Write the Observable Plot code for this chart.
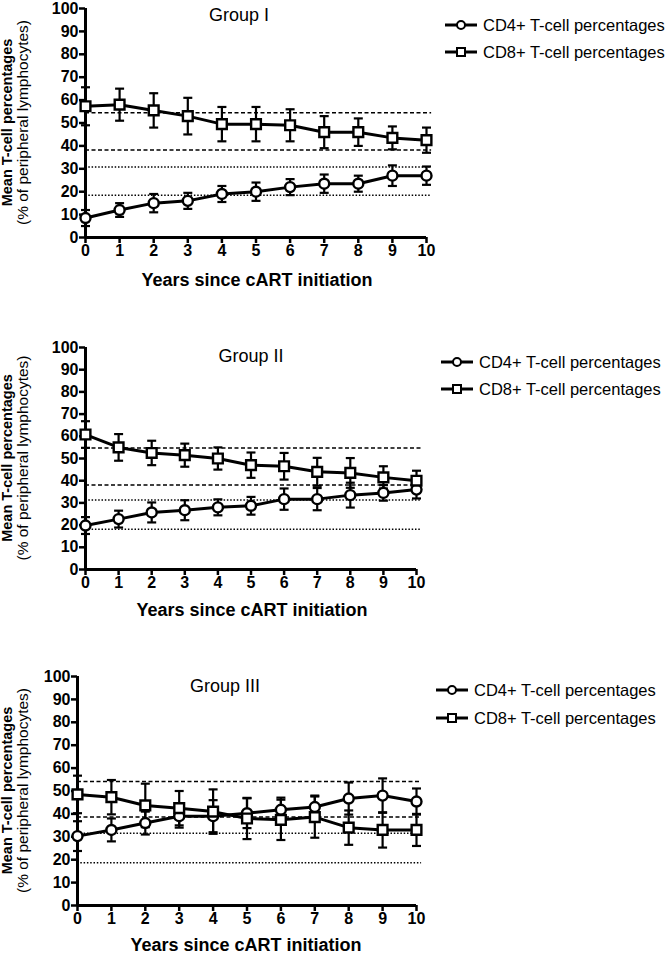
<!DOCTYPE html>
<html><head><meta charset="utf-8">
<script src="https://cdn.jsdelivr.net/npm/d3@7"></script>
<script src="https://cdn.jsdelivr.net/npm/@observablehq/plot@0.6"></script>
<style>
body{margin:0;background:#fff;}
#root{position:relative;width:671px;height:957px;font-family:"Liberation Sans",Arial,sans-serif;overflow:hidden;}
.panel{position:absolute;left:0;}
#overlay{position:absolute;left:0;top:0;pointer-events:none;}
</style></head><body><div id="root"></div>
<script>
// ---- data ----
const years = [0, 1, 2, 3, 4, 5, 6, 7, 8, 9, 10];
const yTicks = [0, 10, 20, 30, 40, 50, 60, 70, 80, 90, 100];
const seriesNames = ["CD4+ T-cell percentages", "CD8+ T-cell percentages"];
const groupNames = ["Group I", "Group II", "Group III"];
const xTitle = "Years since cART initiation";
const yTitle1 = "Mean T-cell percentages";
const yTitle2 = "(% of peripheral lymphocytes)";

const g1Cd4 = [8.5, 12, 15, 16, 19, 20, 22, 23.5, 23.5, 27, 27];
const g1Cd4Err = [3.5, 3, 4, 3.5, 3.5, 4, 3.5, 4, 3.5, 4.5, 4];
const g1Cd8 = [57.3, 58, 55.5, 53, 49.5, 49.5, 49, 46, 46, 43.5, 42.5];
const g1Cd8Err = [8.3, 7, 7.5, 8, 7.5, 7.5, 7, 7, 6, 5, 5.5];

const g2Cd4 = [19.8, 22.7, 25.7, 26.7, 28, 28.7, 31.7, 31.7, 33.5, 34.5, 36];
const g2Cd4Err = [3.8, 3.8, 4.5, 4.5, 3.6, 4, 4.8, 5, 5.6, 3.5, 4];
const g2Cd8 = [60.8, 55, 52.5, 51.5, 50, 47, 46.5, 44, 43.5, 41.5, 40];
const g2Cd8Err = [6, 6, 5.5, 5.2, 5, 5.7, 6, 6.3, 6.7, 5, 4.5];

const g3Cd4 = [30.3, 33, 36, 39, 39, 40.3, 41.8, 43, 46.7, 48, 45.4];
const g3Cd4Err = [6.5, 5, 5, 5, 7, 6.5, 5.3, 5, 7, 7.5, 5.7];
const g3Cd8 = [48.5, 47.3, 43.7, 42.5, 41, 38, 37.4, 38.6, 34, 33, 33];
const g3Cd8Err = [8.2, 7.5, 9.5, 7.5, 9.7, 9, 8.8, 9, 7.5, 7.7, 7];

// reference ranges: CD8 (dashed) and CD4 (dotted)
const g1Cd8Ref = [54.5, 38.2];
const g1Cd4Ref = [30.8, 18.5];
const g2Cd8Ref = [54.7, 38.1];
const g2Cd4Ref = [31.3, 18.1];
const g3Cd8Ref = [54.2, 38.6];
const g3Cd4Ref = [31.6, 18.7];

// ---- layout ----
const panels = [
  {name: groupNames[0], cd4: g1Cd4, cd4Err: g1Cd4Err, cd8: g1Cd8, cd8Err: g1Cd8Err, cd8Ref: g1Cd8Ref, cd4Ref: g1Cd4Ref,
   top: 0, height: 300, mt: 8, mb: 63, ml: 85, mr: 14,
   titleX: 239, titleY: 21, xlabX: 257, xlabY: 286, ylab1X: 12, ylab2X: 28, legX: 445, legY: [25, 52]},
  {name: groupNames[1], cd4: g2Cd4, cd4Err: g2Cd4Err, cd8: g2Cd8, cd8Err: g2Cd8Err, cd8Ref: g2Cd8Ref, cd4Ref: g2Cd4Ref,
   top: 320, height: 300, mt: 27, mb: 51, ml: 85, mr: 24,
   titleX: 251, titleY: 362, xlabX: 252, xlabY: 616, ylab1X: 12, ylab2X: 28, legX: 441, legY: [362, 389]},
  {name: groupNames[2], cd4: g3Cd4, cd4Err: g3Cd4Err, cd8: g3Cd8, cd8Err: g3Cd8Err, cd8Ref: g3Cd8Ref, cd4Ref: g3Cd4Ref,
   top: 640, height: 317, mt: 36, mb: 52, ml: 77, mr: 24,
   titleX: 225, titleY: 692, xlabX: 246, xlabY: 951, ylab1X: 12, ylab2X: 28, legX: 436, legY: [690, 718]}
];

const root = document.getElementById("root");
const capSymbol = {
  draw(context, size) {
    const w = Math.sqrt(size / Math.PI);
    context.moveTo(-w, 0);
    context.lineTo(w, 0);
  }
};

for (const p of panels) {
  const rows = [];
  years.forEach((yr, i) => {
    rows.push({year: yr, series: "CD4", v: p.cd4[i], lo: p.cd4[i] - p.cd4Err[i], hi: p.cd4[i] + p.cd4Err[i]});
  });
  years.forEach((yr, i) => {
    rows.push({year: yr, series: "CD8", v: p.cd8[i], lo: p.cd8[i] - p.cd8Err[i], hi: p.cd8[i] + p.cd8Err[i]});
  });
  const x0 = d3.min(years), x1 = d3.max(years);
  const chart = Plot.plot({
    width: 440,
    height: p.height,
    marginTop: p.mt,
    marginBottom: p.mb,
    marginLeft: p.ml,
    marginRight: p.mr,
    style: {fontFamily: "'Liberation Sans', Arial, sans-serif", fontSize: "16px", fontWeight: "bold", color: "black", background: "transparent", overflow: "visible"},
    x: {domain: [x0, x1], ticks: years, label: null},
    y: {domain: [0, 100], ticks: yTicks, label: null},
    marks: [
      Plot.ruleY(p.cd8Ref, {y: d => d, x1: () => x0, x2: () => x1 + 0.15, stroke: "black", strokeWidth: 1.5, strokeDasharray: "4,2.5"}),
      Plot.ruleY(p.cd4Ref, {y: d => d, x1: () => x0, x2: () => x1 + 0.15, stroke: "black", strokeWidth: 1.5, strokeDasharray: "1.5,1.8"}),
      Plot.axisX({ticks: years, tickSize: 6, tickPadding: 1, strokeWidth: 2.5, label: null, tickFormat: d => d}),
      Plot.axisY({ticks: yTicks, tickSize: 6, tickPadding: 1, strokeWidth: 2.5, label: null}),
      Plot.ruleX([x0], {y1: () => 0, y2: () => 100, stroke: "black", strokeWidth: 3}),
      Plot.ruleY([0], {x1: () => x0, x2: () => x1, stroke: "black", strokeWidth: 3}),
      Plot.line(rows, {x: "year", y: "v", z: "series", stroke: "black", strokeWidth: 3}),
      Plot.ruleX(rows, {x: "year", y1: "lo", y2: "hi", stroke: "black", strokeWidth: 2.2}),
      Plot.dot(rows, {x: "year", y: "hi", symbol: capSymbol, r: 4.5, stroke: "black", strokeWidth: 2.2, fill: "none"}),
      Plot.dot(rows, {x: "year", y: "lo", symbol: capSymbol, r: 4.5, stroke: "black", strokeWidth: 2.2, fill: "none"}),
      Plot.dot(rows.filter(d => d.series === "CD4"), {x: "year", y: "v", symbol: "circle", r: 5, fill: "white", stroke: "black", strokeWidth: 2.4}),
      Plot.dot(rows.filter(d => d.series === "CD8"), {x: "year", y: "v", symbol: "square", r: 5.5, fill: "white", stroke: "black", strokeWidth: 2.4})
    ]
  });
  chart.classList.add("panel");
  chart.style.top = p.top + "px";
  root.appendChild(chart);
}

// ---- overlay texts and legends ----
const svg = d3.select(root).append("svg").attr("id", "overlay").attr("width", 671).attr("height", 957)
  .style("font-family", "'Liberation Sans', Arial, sans-serif");

for (const p of panels) {
  const plotCenterY = p.top + p.mt + (p.height - p.mt - p.mb) / 2;
  svg.append("text").attr("x", p.titleX).attr("y", p.titleY).attr("text-anchor", "middle")
    .style("font-size", "18px").text(p.name);
  svg.append("text").attr("x", p.xlabX).attr("y", p.xlabY).attr("text-anchor", "middle")
    .style("font-size", "18px").style("font-weight", "bold").text(xTitle);
  svg.append("text").attr("transform", `translate(${p.ylab1X},${plotCenterY}) rotate(-90)`).attr("text-anchor", "middle")
    .style("font-size", "14.5px").style("font-weight", "bold").text(yTitle1);
  svg.append("text").attr("transform", `translate(${p.ylab2X},${plotCenterY}) rotate(-90)`).attr("text-anchor", "middle")
    .style("font-size", "15.5px").text(yTitle2);

  seriesNames.forEach((s, i) => {
    const y = p.legY[i];
    const g = svg.append("g");
    g.append("line").attr("x1", p.legX).attr("x2", p.legX + 32).attr("y1", y).attr("y2", y)
      .attr("stroke", "black").attr("stroke-width", 3);
    if (i === 0) {
      g.append("circle").attr("cx", p.legX + 16).attr("cy", y).attr("r", 4).attr("fill", "white").attr("stroke", "black").attr("stroke-width", 2);
    } else {
      g.append("rect").attr("x", p.legX + 12).attr("y", y - 4).attr("width", 8).attr("height", 8).attr("fill", "white").attr("stroke", "black").attr("stroke-width", 2);
    }
    g.append("text").attr("x", p.legX + 38).attr("y", y + 6).style("font-size", "16.5px").text(s);
  });
}
</script></body></html>
